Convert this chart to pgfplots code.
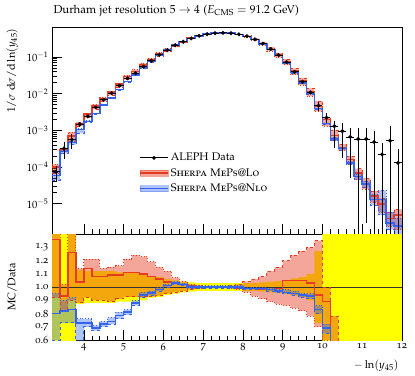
\documentclass[border=0pt]{standalone}
\usepackage[T1]{fontenc}
\usepackage[osf]{mathpazo}
\usepackage{pgfplots}
\usepackage{pgfplotstable}
\pgfplotsset{compat=1.18}
\usepgfplotslibrary{fillbetween}

\definecolor{mcred}{RGB}{232,58,30}
\definecolor{mcblue}{RGB}{50,100,240}
\definecolor{datayellow}{RGB}{255,255,0}

% MC histograms, left bin edges (last row repeats the final bin)
\pgfplotstableread{
x R RA RB B BA BB
3.2 1.006e-4 6.81e-5 1.18e-4 5.92e-5 4.44e-5 7.03e-5
3.4 2.98e-4 2.62e-4 3.26e-4 2.62e-4 2.34e-4 2.88e-4
3.6 7.06e-4 5.04e-4 8.96e-4 4.65e-4 4.09e-4 5.15e-4
3.8 1.51e-3 1.28e-3 1.65e-3 1.06e-3 8.41e-4 1.10e-3
4.0 2.74e-3 2.21e-3 2.90e-3 1.75e-3 1.68e-3 1.82e-3
4.2 4.54e-3 3.78e-3 5.08e-3 2.90e-3 2.81e-3 2.98e-3
4.4 7.34e-3 6.12e-3 7.75e-3 4.90e-3 4.76e-3 5.03e-3
4.6 1.112e-2 9.08e-3 1.173e-2 7.55e-3 7.34e-3 7.85e-3
4.8 1.80e-2 1.50e-2 1.91e-2 1.30e-2 1.25e-2 1.34e-2
5.0 2.89e-2 2.41e-2 3.15e-2 2.11e-2 2.05e-2 2.16e-2
5.2 4.00e-2 3.33e-2 4.46e-2 3.17e-2 3.10e-2 3.24e-2
5.4 5.94e-2 5.00e-2 6.64e-2 5.08e-2 4.97e-2 5.18e-2
5.6 8.42e-2 7.25e-2 9.28e-2 7.45e-2 7.33e-2 7.57e-2
5.8 0.1208 0.1066 0.1311 0.1117 0.1106 0.1134
6.0 0.1581 0.1444 0.1702 0.1535 0.152 0.1550
6.2 0.2132 0.1987 0.2215 0.2132 0.2111 0.2153
6.4 0.2621 0.2493 0.2673 0.2621 0.2596 0.2647
6.6 0.3212 0.3116 0.3244 0.318 0.3148 0.3212
6.8 0.375 0.3713 0.3788 0.375 0.3713 0.3788
7.0 0.414 0.4119 0.4161 0.414 0.4099 0.4181
7.2 0.44 0.4391 0.4409 0.44 0.4356 0.4444
7.4 0.45 0.4523 0.4478 0.45 0.4455 0.4545
7.6 0.44 0.4444 0.4356 0.44 0.4356 0.4444
7.8 0.4059 0.4182 0.4039 0.41 0.4059 0.4141
8.0 0.3614 0.3796 0.3504 0.3614 0.3577 0.365
8.2 0.297 0.318 0.279 0.297 0.294 0.30
8.4 0.2254 0.2484 0.2093 0.2277 0.2254 0.23
8.6 0.1597 0.1826 0.1451 0.1597 0.1581 0.1614
8.8 0.1109 0.1288 0.0974 0.1086 0.1075 0.1098
9.0 0.0756 0.0864 0.0619 0.0691 0.0684 0.0706
9.2 0.04095 0.04836 0.03276 0.03705 0.03666 0.03783
9.4 0.02205 0.02667 0.01722 0.01974 0.01932 0.01995
9.6 0.01102 0.01391 0.00835 0.00995 0.00974 0.01017
9.8 4.42e-3 6.35e-3 3.29e-3 3.90e-3 3.76e-3 4.04e-3
10.0 1.96e-3 2.2e-3 1.32e-3 1.52e-3 1.43e-3 1.58e-3
10.2 7.15e-4 1.01e-3 5.2e-4 5.85e-4 5.2e-4 6.5e-4
10.4 3.4e-4 4.2e-4 2.8e-4 3.2e-4 2.9e-4 3.5e-4
10.6 1.6e-4 2.0e-4 1.2e-4 1.3e-4 1.15e-4 1.45e-4
10.8 7e-5 9e-5 4.5e-5 5.5e-5 4.5e-5 6.5e-5
11.0 3.5e-5 5e-5 2.5e-5 3.5e-5 2.8e-5 4.2e-5
11.2 1.6e-5 2.2e-5 1.1e-5 1.3e-5 9e-6 1.8e-5
11.4 1.0e-5 1.4e-5 6e-6 1.3e-5 5e-6 2.3e-5
11.6 4e-6 6e-6 2.5e-6 3e-6 2e-6 6e-6
11.8 5e-6 7e-6 2e-6 2.5e-6 1.5e-6 4e-6
12.0 5e-6 7e-6 2e-6 2.5e-6 1.5e-6 4e-6
}\mainmc

% ALEPH data, bin centres
\pgfplotstableread{
x y ep em
3.3 7.4e-5 3.33e-5 3.33e-5
3.5 3.2e-4 1.50e-4 1.50e-4
3.7 5.6e-4 2.52e-4 2.52e-4
3.9 1.45e-3 1.89e-4 1.89e-4
4.1 2.4e-3 2.88e-4 2.88e-4
4.3 4.2e-3 5.04e-4 5.04e-4
4.5 6.8e-3 8.16e-4 8.16e-4
4.7 1.02e-2 1.22e-3 1.22e-3
4.9 1.65e-2 1.82e-3 1.82e-3
5.1 2.6e-2 2.86e-3 2.86e-3
5.3 3.6e-2 3.96e-3 3.96e-3
5.5 5.4e-2 5.4e-3 5.4e-3
5.7 7.8e-2 6.24e-3 6.24e-3
5.9 0.114 8.55e-3 8.55e-3
6.1 0.152 9.12e-3 9.12e-3
6.3 0.207 0.01035 0.01035
6.5 0.257 0.01028 0.01028
6.7 0.318 0.01113 0.01113
6.9 0.375 0.01125 0.01125
7.1 0.414 0.01242 0.01242
7.3 0.44 0.0132 0.0132
7.5 0.45 0.0135 0.0135
7.7 0.44 0.0132 0.0132
7.9 0.41 0.0123 0.0123
8.1 0.365 0.01095 0.01095
8.3 0.30 0.009 0.009
8.5 0.23 0.00805 0.00805
8.7 0.163 0.00652 0.00652
8.9 0.112 0.00504 0.00504
9.1 0.072 0.0036 0.0036
9.3 0.039 0.002535 0.002535
9.5 0.021 0.001575 0.001575
9.7 0.0107 0.00107 0.00107
9.9 4.7e-3 1.27e-3 1.27e-3
10.1 2.2e-3 8e-4 6e-4
10.3 1.3e-3 5e-4 9.6e-4
10.5 9.5e-4 6.5e-4 7.7e-4
10.7 6.6e-4 5.1e-4 6.1e-4
10.9 5.8e-4 6e-4 5.794e-4
11.1 5.8e-4 5.9e-4 5.77e-4
11.3 4.8e-4 4.5e-4 4.795e-4
11.5 2.2e-4 2.4e-4 2.198e-4
11.7 5.2e-4 7.8e-4 5.195e-4
11.9 1.3e-4 1.8e-4 1.2987e-4
}\datapts

% MC/Data, left bin edges; lo/hi = data uncertainty band
\pgfplotstableread{
x lo hi r rA rB b bA bB
3.2 0.55 1.45 1.36 0.92 1.6 0.80 0.6 0.95
3.4 0.53 1.47 0.93 0.82 1.02 0.82 0.73 0.9
3.6 0.55 1.45 1.26 0.9 1.6 0.83 0.73 0.92
3.8 0.87 1.13 1.04 0.88 1.14 0.73 0.58 0.76
4.0 0.88 1.12 1.14 0.92 1.21 0.73 0.70 0.76
4.2 0.88 1.12 1.08 0.90 1.21 0.69 0.67 0.71
4.4 0.88 1.12 1.08 0.90 1.14 0.72 0.70 0.74
4.6 0.88 1.12 1.09 0.89 1.15 0.74 0.72 0.77
4.8 0.89 1.11 1.09 0.91 1.16 0.785 0.76 0.81
5.0 0.89 1.11 1.11 0.925 1.21 0.81 0.79 0.83
5.2 0.89 1.11 1.11 0.925 1.24 0.88 0.86 0.90
5.4 0.90 1.10 1.10 0.925 1.23 0.94 0.92 0.96
5.6 0.92 1.08 1.08 0.93 1.19 0.955 0.94 0.97
5.8 0.925 1.075 1.06 0.935 1.15 0.98 0.97 0.995
6.0 0.94 1.06 1.04 0.95 1.12 1.01 1.0 1.02
6.2 0.95 1.05 1.03 0.96 1.07 1.03 1.02 1.04
6.4 0.96 1.04 1.02 0.97 1.04 1.02 1.01 1.03
6.6 0.965 1.035 1.01 0.98 1.02 1.0 0.99 1.01
6.8 0.97 1.03 1.0 0.99 1.01 1.0 0.99 1.01
7.0 0.97 1.03 1.0 0.995 1.005 1.0 0.99 1.01
7.2 0.97 1.03 1.0 0.998 1.002 1.0 0.99 1.01
7.4 0.97 1.03 1.0 1.005 0.995 1.0 0.99 1.01
7.6 0.97 1.03 1.0 1.01 0.99 1.0 0.99 1.01
7.8 0.97 1.03 0.99 1.02 0.985 1.0 0.99 1.01
8.0 0.97 1.03 0.99 1.04 0.96 0.99 0.98 1.0
8.2 0.97 1.03 0.99 1.06 0.93 0.99 0.98 1.0
8.4 0.965 1.035 0.98 1.08 0.91 0.99 0.98 1.0
8.6 0.96 1.04 0.98 1.12 0.89 0.98 0.97 0.99
8.8 0.955 1.045 0.99 1.15 0.87 0.97 0.96 0.98
9.0 0.95 1.05 1.05 1.2 0.86 0.96 0.95 0.98
9.2 0.935 1.065 1.05 1.24 0.84 0.95 0.94 0.97
9.4 0.925 1.075 1.05 1.27 0.82 0.94 0.92 0.95
9.6 0.9 1.1 1.03 1.3 0.78 0.93 0.91 0.95
9.8 0.73 1.27 0.94 1.35 0.7 0.83 0.80 0.86
10.0 0.0 2.0 0.89 1.0 0.6 0.69 0.65 0.72
10.2 0.0 2.0 0.55 0.78 0.4 0.45 0.4 0.5
10.4 0.0 2.0 0.36 0.44 0.29 0.34 0.31 0.37
10.6 0.0 2.0 0.24 0.30 0.18 0.20 0.17 0.22
10.8 0.0 2.0 0.12 0.16 0.08 0.095 0.078 0.11
11.0 0.0 2.0 0.06 0.086 0.043 0.06 0.048 0.072
11.2 0.0 2.0 0.033 0.046 0.023 0.027 0.019 0.038
11.4 0.0 2.0 0.045 0.064 0.027 0.059 0.023 0.105
11.6 0.0 2.0 0.0077 0.0115 0.0048 0.0058 0.0038 0.0115
11.8 0.0 2.0 0.038 0.054 0.015 0.019 0.012 0.031
12.0 0.0 2.0 0.038 0.054 0.015 0.019 0.012 0.031
}\ratio

\pgfplotsset{
  rivet/.style={
    scale only axis, width=350pt,
    xmin=3.2, xmax=12,
    tick pos=left, tick align=inside,
    major tick length=10pt, minor tick length=4.5pt,
    every tick/.style={black, line width=0.5pt},
    axis line style={black, line width=0.6pt},
    font=\fontsize{11}{13}\selectfont,
    tick label style={font=\fontsize{10.5}{12}\selectfont},
    xtick={4,...,12}, minor x tick num=4,
  },
}

\begin{document}
\begin{tikzpicture}

% ---------- main panel ----------
\begin{axis}[rivet,
  name=main, at={(0pt,106pt)}, anchor=south west, height=207pt,
  ymode=log, ymin=1.5e-6, ymax=0.65,
  ytick={1e-5,1e-4,1e-3,1e-2,1e-1},
  xticklabels={},
  title={Durham jet resolution $5\to4$ ($E_{\mathrm{CMS}}=91.2$~GeV)},
  title style={at={(axis description cs:0,1)}, anchor=south west, xshift=-2pt, yshift=1pt, font=\fontsize{11.5}{13}\selectfont},
  ylabel={$1/\sigma\;\mathrm{d}\sigma/\mathrm{d}\ln(y_{45})$},
  ylabel style={at={(axis description cs:-0.114,1.01)}, anchor=east},
  legend style={draw=none, fill=none, at={(axis description cs:0.24,0.41)}, anchor=north west,
    row sep=2pt, font=\fontsize{11}{13}\selectfont},
  legend cell align=left,
]
\addplot[name path=ra, const plot, draw=none, forget plot] table[x=x, y=RA]{\mainmc};
\addplot[name path=rb, const plot, draw=none, forget plot] table[x=x, y=RB]{\mainmc};
\addplot[mcred, fill opacity=0.45, forget plot] fill between[of=ra and rb];
\addplot[name path=ba, const plot, draw=none, forget plot] table[x=x, y=BA]{\mainmc};
\addplot[name path=bb, const plot, draw=none, forget plot] table[x=x, y=BB]{\mainmc};
\addplot[mcblue, fill opacity=0.38, forget plot] fill between[of=ba and bb];
\addplot[const plot, mcred, dashed, line width=0.6pt, forget plot] table[x=x, y=RA]{\mainmc};
\addplot[const plot, mcred, dotted, line width=0.6pt, forget plot] table[x=x, y=RB]{\mainmc};
\addplot[const plot, mcred, line width=1.6pt, forget plot] table[x=x, y=R]{\mainmc};
\addplot[const plot, mcblue, dashed, line width=0.6pt, forget plot] table[x=x, y=BA]{\mainmc};
\addplot[const plot, mcblue, dotted, line width=0.6pt, forget plot] table[x=x, y=BB]{\mainmc};
\addplot[const plot, mcblue, line width=1.6pt, forget plot] table[x=x, y=B]{\mainmc};
\addplot[only marks, black, mark=*, mark size=1.8pt, forget plot,
  error bars/.cd, y dir=both, y explicit, x dir=both, x fixed=0.1,
  error mark=none, error bar style={black, line width=0.8pt}]
  table[x=x, y=y, y error plus=ep, y error minus=em]{\datapts};

\addlegendimage{legend image code/.code={
  \draw[black, line width=0.8pt] (0pt,0pt) -- (28pt,0pt);
  \fill[black] (14pt,0pt) circle (1.8pt);}}
\addlegendentry{ALEPH Data}
\addlegendimage{legend image code/.code={
  \fill[mcred, opacity=0.45] (0pt,-3pt) rectangle (28pt,3pt);
  \draw[mcred, line width=1.6pt] (0pt,0pt) -- (28pt,0pt);}}
\addlegendentry{\textsc{Sherpa MePs@Lo}}
\addlegendimage{legend image code/.code={
  \fill[mcblue, opacity=0.38] (0pt,-3pt) rectangle (28pt,3pt);
  \draw[mcblue, line width=1.6pt] (0pt,0pt) -- (28pt,0pt);}}
\addlegendentry{\textsc{Sherpa MePs@Nlo}}
\end{axis}

% ---------- ratio panel ----------
\begin{axis}[rivet,
  name=ratio, at={(0pt,0pt)}, anchor=south west, height=106pt,
  ymin=0.6, ymax=1.4,
  ytick={0.6,0.7,0.8,0.9,1.0,1.1,1.2,1.3}, minor y tick num=4,
  yticklabel style={/pgf/number format/.cd, fixed, fixed zerofill, precision=1},
  /pgf/number format/assume math mode=true,
  xlabel={$-\ln(y_{45})$},
  xlabel style={at={(axis description cs:1,-0.15)}, anchor=north east},
  ylabel={MC/Data},
  ylabel style={at={(axis description cs:-0.114,0.5)}, anchor=center},
]
\addplot[name path=yh, const plot, draw=none] table[x=x, y=hi]{\ratio};
\addplot[name path=yl, const plot, draw=none] table[x=x, y=lo]{\ratio};
\addplot[datayellow] fill between[of=yh and yl];
\addplot[name path=qa, const plot, draw=none] table[x=x, y=rA]{\ratio};
\addplot[name path=qb, const plot, draw=none] table[x=x, y=rB]{\ratio};
\addplot[mcred, fill opacity=0.45] fill between[of=qa and qb];
\addplot[name path=pa, const plot, draw=none] table[x=x, y=bA]{\ratio};
\addplot[name path=pb, const plot, draw=none] table[x=x, y=bB]{\ratio};
\addplot[mcblue, fill opacity=0.38] fill between[of=pa and pb];
\addplot[black!80, line width=0.5pt] coordinates {(3.2,1) (12,1)};
\addplot[const plot, mcred, dashed, line width=0.9pt] table[x=x, y=rA]{\ratio};
\addplot[const plot, mcred, dotted, line width=0.9pt] table[x=x, y=rB]{\ratio};
\addplot[const plot, mcred, line width=1.6pt] table[x=x, y=r]{\ratio};
\addplot[const plot, mcblue, dashed, line width=0.9pt] table[x=x, y=bA]{\ratio};
\addplot[const plot, mcblue, dotted, line width=0.9pt] table[x=x, y=bB]{\ratio};
\addplot[const plot, mcblue, line width=1.6pt] table[x=x, y=b]{\ratio};
\end{axis}

\path (-52pt,-35pt) rectangle (363pt,340pt);
\end{tikzpicture}
\end{document}
